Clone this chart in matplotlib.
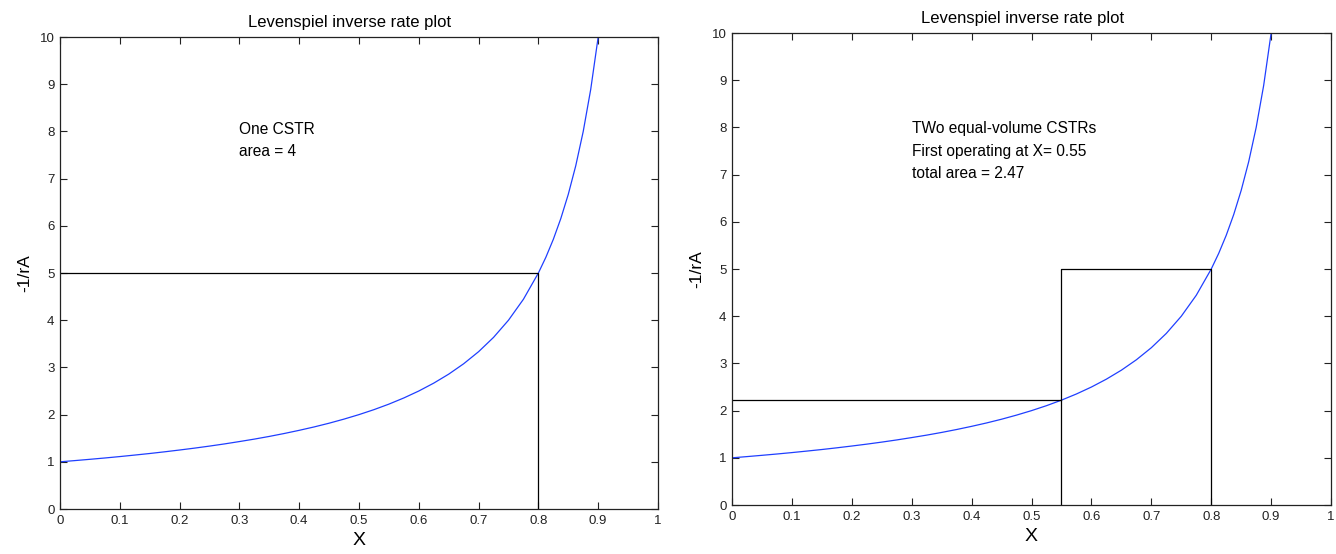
import matplotlib
matplotlib.use("Agg")
from matplotlib import pyplot as plt

# conversion X and the inverse rate -1/rA
conv = [0, 0.025, 0.05, 0.075, 0.1, 0.125, 0.15, 0.175, 0.2, 0.225,
        0.25, 0.275, 0.3, 0.325, 0.35, 0.375, 0.4, 0.425, 0.45, 0.475,
        0.5, 0.525, 0.55, 0.575, 0.6, 0.625, 0.65, 0.675, 0.7, 0.725,
        0.75, 0.775, 0.8, 0.8125, 0.825, 0.8375, 0.85, 0.8625, 0.875, 0.8875, 0.9]
inv_rate = [1.0, 1.026, 1.053, 1.081, 1.111, 1.143, 1.176, 1.212, 1.25, 1.29,
            1.333, 1.379, 1.429, 1.481, 1.538, 1.6, 1.667, 1.739, 1.818, 1.905,
            2.0, 2.105, 2.222, 2.353, 2.5, 2.667, 2.857, 3.077, 3.333, 3.636,
            4.0, 4.444, 5.0, 5.333, 5.714, 6.154, 6.667, 7.273, 8.0, 8.889, 10.0]

# one CSTR
x_one = 0.8
y_one = 5.0
# two CSTRs in series
x_first = 0.55
y_first = 2.22
x_second = 0.8
y_second = 5.0

text_one = "One CSTR\narea = 4"
text_two = "TWo equal-volume CSTRs\nFirst operating at X= 0.55\ntotal area = 2.47"

plt.rcParams["font.family"] = ["Liberation Sans", "DejaVu Sans"]

fig = plt.figure(figsize=(13.36, 5.54), dpi=100)
ax1 = fig.add_axes([0.0449, 0.0812, 0.4476, 0.852])
ax2 = fig.add_axes([0.5479, 0.0884, 0.4484, 0.852])


def style(ax):
    ax.set_xlim(0, 1)
    ax.set_ylim(0, 10)
    ax.set_xticks([i / 10 for i in range(11)])
    ax.set_xticklabels(["0", "0.1", "0.2", "0.3", "0.4", "0.5", "0.6", "0.7", "0.8", "0.9", "1"])
    ax.set_yticks(range(11))
    ax.tick_params(direction="in", top=True, right=True, labelsize=9.5, length=5, width=0.8,
                   colors="#222222", pad=4)
    for s in ax.spines.values():
        s.set_color("#222222")
        s.set_linewidth(0.9)
    ax.set_title("Levenspiel inverse rate plot", fontsize=12, pad=7)
    ax.title.set_x(0.485)
    ax.set_xlabel("X", fontsize=14, labelpad=4)
    ax.set_ylabel("-1/rA", fontsize=12.5, labelpad=5)


ax1.plot(conv, inv_rate, color="#1f3fff", lw=0.9)
ax1.plot([0, x_one, x_one], [y_one, y_one, 0], color="black", lw=0.9)
ax1.text(0.3, 7.8, text_one, fontsize=11.2, va="center", ha="left", linespacing=1.6)
style(ax1)

ax2.plot(conv, inv_rate, color="#1f3fff", lw=0.9)
ax2.plot([0, x_first, x_first], [y_first, y_first, 0], color="black", lw=0.9)
ax2.plot([x_first, x_first, x_second, x_second], [y_first, y_second, y_second, 0], color="black", lw=0.9)
ax2.text(0.3, 7.5, text_two, fontsize=11.2, va="center", ha="left", linespacing=1.6)
style(ax2)

fig.savefig("out.png", dpi=100)
